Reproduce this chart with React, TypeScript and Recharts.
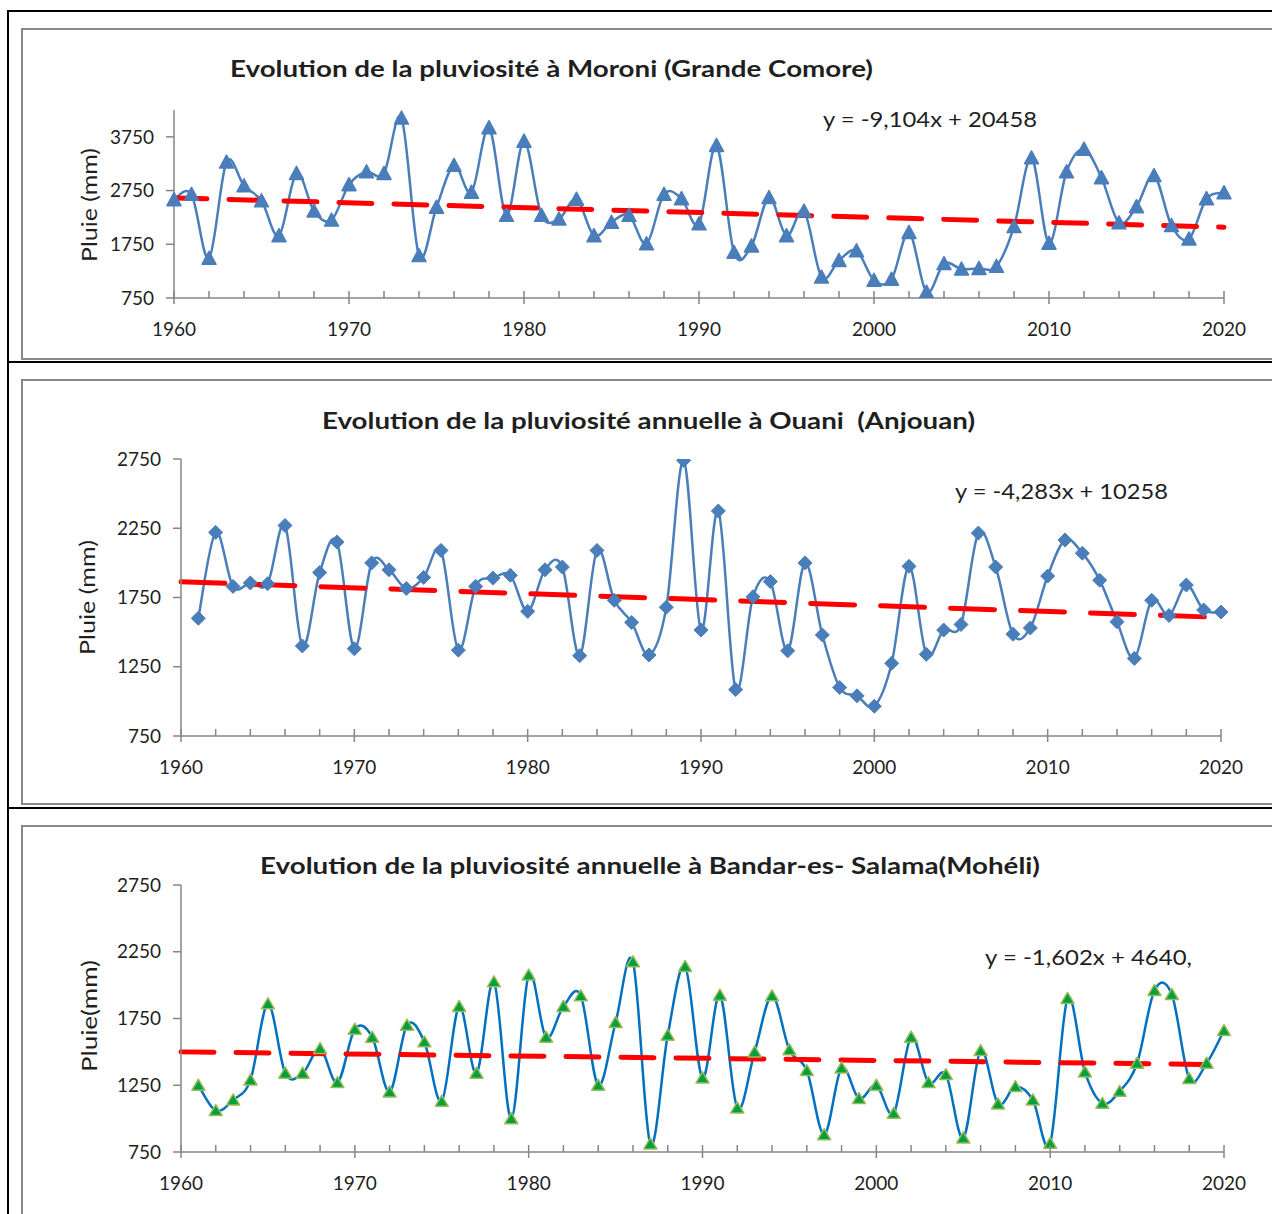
import { LineChart, Line, XAxis, YAxis, ReferenceLine } from "recharts";

const YEARS = Array.from({ length: 61 }, (_, i) => 1960 + i);
const YEAR_TICKS = YEARS.filter((y) => y % 2 === 0);

// Moroni (Grande Comore), 1960-2020
const MORONI = [
  2580, 2680, 1490, 3280, 2840, 2560, 1910, 3070, 2370, 2200,
  2860, 3100, 3070, 4100, 1540, 2440, 3220, 2720, 3920, 2290,
  3670, 2290, 2220, 2590, 1910, 2160, 2290, 1760, 2680, 2600,
  2130, 3590, 1600, 1720, 2620, 1910, 2370, 1140, 1450, 1630,
  1080, 1100, 1970, 860, 1390, 1290, 1300, 1340, 2080, 3360,
  1770, 3100, 3520, 2990, 2150, 2450, 3030, 2100, 1850, 2600,
  2710,
];

// Ouani (Anjouan), no value for 1960
const OUANI = [
  null, 1600, 2220, 1830, 1855, 1850, 2270, 1400, 1930, 2150,
  1380, 2000, 1950, 1815, 1895, 2090, 1370, 1830, 1890, 1910,
  1650, 1950, 1970, 1330, 2090, 1730, 1570, 1335, 1680, 2740,
  1515, 2375, 1085, 1755, 1865, 1365, 2000, 1480, 1100, 1040,
  965, 1275, 1975, 1340, 1515, 1555, 2215, 1970, 1485, 1530,
  1905, 2165, 2070, 1875, 1575, 1310, 1730, 1620, 1840, 1660,
  1645,
];

// Bandar-es-Salama (Mohéli), no value for 1960
const BANDAR = [
  null, 1250, 1060, 1140, 1290, 1860, 1340, 1340, 1525, 1270,
  1670, 1610, 1200, 1700, 1575, 1130, 1840, 1340, 2025, 1000,
  2075, 1610, 1840, 1920, 1250, 1720, 2175, 810, 1625, 2140,
  1305, 1925, 1080, 1500, 1920, 1515, 1360, 880, 1380, 1150,
  1250, 1040, 1610, 1270, 1330, 855, 1510, 1110, 1240, 1140,
  815, 1900, 1350, 1115, 1205, 1415, 1960, 1930, 1300, 1415,
  1660,
];

// linear trends (values at 1960 and 2020)
const TREND_MORONI = [2614, 2068];
const TREND_OUANI = [1863, 1606];
const TREND_BANDAR = [1500, 1404];

const TICKS_MORONI = [750, 1750, 2750, 3750];
const TICKS_OTHER = [750, 1250, 1750, 2250, 2750];

const FONT = "Lato, 'Open Sans', sans-serif";
const AXIS = "#868686";
const TEXT = "#1f1f1f";

// Excel-style smoothed line (cardinal spline, tension 0)
const excelCurve = (context: any) => {
  let pts: number[][] = [];
  return {
    areaStart() {},
    areaEnd() {},
    lineStart() {
      pts = [];
    },
    point(x: number, y: number) {
      pts.push([+x, +y]);
    },
    lineEnd() {
      if (!pts.length) return;
      context.moveTo(pts[0][0], pts[0][1]);
      for (let i = 0; i < pts.length - 1; i++) {
        const p0 = pts[i - 1] || pts[i];
        const p1 = pts[i];
        const p2 = pts[i + 1];
        const p3 = pts[i + 2] || p2;
        context.bezierCurveTo(
          p1[0] + (p2[0] - p0[0]) / 6,
          p1[1] + (p2[1] - p0[1]) / 6,
          p2[0] - (p3[0] - p1[0]) / 6,
          p2[1] - (p3[1] - p1[1]) / 6,
          p2[0],
          p2[1]
        );
      }
    },
  };
};

const YearTick = (props: any) => {
  const { x, y, payload } = props;
  const major = payload.value % 10 === 0;
  return (
    <g>
      <line x1={x} x2={x} y1={y - 7} y2={major ? y + 6 : y} stroke={AXIS} strokeWidth={1.5} />
      {major && (
        <text x={x} y={y + 30} textAnchor="middle" dominantBaseline="central" fill={TEXT} fontSize={19} fontFamily={FONT}>
          {payload.value}
        </text>
      )}
    </g>
  );
};

const triangleDot = (fill: string, stroke: string, w: number, h: number) => (p: any) => {
  if (p.cx == null || p.cy == null || p.value == null) return <g key={p.key} />;
  const { cx, cy } = p;
  const pts = `${cx},${cy - h / 2 - 1} ${cx + w / 2},${cy + h / 2} ${cx - w / 2},${cy + h / 2}`;
  return <polygon key={p.key} points={pts} fill={fill} stroke={stroke} strokeWidth={1.5} strokeLinejoin="round" />;
};

const diamondDot = (p: any) => {
  if (p.cx == null || p.cy == null || p.value == null) return <g key={p.key} />;
  const { cx, cy } = p;
  const r = 7;
  const pts = `${cx},${cy - r} ${cx + r},${cy} ${cx},${cy + r} ${cx - r},${cy}`;
  return <polygon key={p.key} points={pts} fill="#4A7EBB" stroke="#4A7EBB" strokeWidth={1} />;
};

interface PanelProps {
  values: (number | null)[];
  trend: number[];
  yDomain: number[];
  yTicks: number[];
  top: number;
  height: number;
  margin: { top: number; right: number; bottom: number; left: number };
  lineColor: string;
  dot: any;
  dash: string;
}

function Panel({ values, trend, yDomain, yTicks, top, height, margin, lineColor, dot, dash }: PanelProps) {
  const data = YEARS.map((year, i) => ({ year, value: values[i] }));
  return (
    <div style={{ position: "absolute", left: 0, top }}>
      <LineChart width={1272} height={height} data={data} margin={margin}>
        <XAxis
          dataKey="year"
          type="number"
          domain={[YEARS[0], YEARS[YEARS.length - 1]]}
          ticks={YEAR_TICKS}
          interval={0}
          tick={<YearTick />}
          tickLine={false}
          tickSize={0}
          tickMargin={0}
          height={40}
          axisLine={{ stroke: AXIS, strokeWidth: 1.5 }}
        />
        <YAxis
          type="number"
          domain={yDomain}
          ticks={yTicks}
          interval={0}
          width={60}
          tickSize={8}
          tickMargin={12}
          tick={{ fill: TEXT, fontSize: 19, fontFamily: FONT }}
          tickLine={{ stroke: AXIS, strokeWidth: 1.5 }}
          axisLine={{ stroke: AXIS, strokeWidth: 1.5 }}
          allowDataOverflow
        />
        <Line
          dataKey="value"
          type={excelCurve as any}
          stroke={lineColor}
          strokeWidth={2.5}
          dot={dot}
          activeDot={false}
          isAnimationActive={false}
        />
        <ReferenceLine
          segment={[
            { x: YEARS[0], y: trend[0] },
            { x: YEARS[YEARS.length - 1], y: trend[1] },
          ]}
          stroke="#FF0000"
          strokeWidth={5}
          strokeDasharray={dash}
          strokeLinecap="round"
        />
      </LineChart>
    </div>
  );
}

export default function App() {
  return (
    <div style={{ position: "absolute", left: 0, top: 0, width: 1272, height: 1214, overflow: "hidden", background: "#fff" }}>
      {/* table frame */}
      <div style={{ position: "absolute", left: 7, top: 10, width: 1300, height: 1300, borderLeft: "2px solid #000", borderTop: "2px solid #000" }} />
      <div style={{ position: "absolute", left: 7, top: 361, width: 1300, height: 2, background: "#000" }} />
      <div style={{ position: "absolute", left: 7, top: 807, width: 1300, height: 2, background: "#000" }} />
      {/* chart boxes */}
      <div style={{ position: "absolute", left: 21, top: 28, width: 1300, height: 328, border: "2px solid #888" }} />
      <div style={{ position: "absolute", left: 21, top: 379, width: 1300, height: 422, border: "2px solid #888" }} />
      <div style={{ position: "absolute", left: 21, top: 825, width: 1300, height: 500, border: "2px solid #888" }} />

      <svg width={1272} height={1214} style={{ position: "absolute", left: 0, top: 0 }} fontFamily={FONT} fill={TEXT}>
        <text x={230} y={68} dominantBaseline="central" fontSize={23} fontWeight="bold" textLength={643} lengthAdjust="spacingAndGlyphs">
          Evolution de la pluviosité à Moroni (Grande Comore)
        </text>
        <text x={322} y={420} dominantBaseline="central" fontSize={23} fontWeight="bold" textLength={653} lengthAdjust="spacingAndGlyphs" style={{ whiteSpace: "pre" }}>
          Evolution de la pluviosité annuelle à Ouani  (Anjouan)
        </text>
        <text x={260} y={865} dominantBaseline="central" fontSize={23} fontWeight="bold" textLength={780} lengthAdjust="spacingAndGlyphs">
          Evolution de la pluviosité annuelle à Bandar-es- Salama(Mohéli)
        </text>
        <text x={823} y={118} dominantBaseline="central" fontSize={21} textLength={214} lengthAdjust="spacingAndGlyphs">y = -9,104x + 20458</text>
        <text x={955} y={490} dominantBaseline="central" fontSize={21} textLength={213} lengthAdjust="spacingAndGlyphs">y = -4,283x + 10258</text>
        <text x={985} y={956} dominantBaseline="central" fontSize={21} textLength={207} lengthAdjust="spacingAndGlyphs">y = -1,602x + 4640,</text>
        <text x={88} y={262} dominantBaseline="central" fontSize={21} textLength={114} lengthAdjust="spacingAndGlyphs" transform="rotate(-90 88 262)">Pluie (mm)</text>
        <text x={86} y={655} dominantBaseline="central" fontSize={21} textLength={115} lengthAdjust="spacingAndGlyphs" transform="rotate(-90 86 655)">Pluie (mm)</text>
        <text x={88} y={1072} dominantBaseline="central" fontSize={21} textLength={112} lengthAdjust="spacingAndGlyphs" transform="rotate(-90 88 1072)">Pluie(mm)</text>
      </svg>

      <Panel
        values={MORONI}
        trend={TREND_MORONI}
        yDomain={[750, 4250]}
        yTicks={TICKS_MORONI}
        top={28}
        height={332}
        margin={{ top: 82, right: 48, bottom: 22, left: 114 }}
        lineColor="#4A7EBB"
        dot={triangleDot("#4A7EBB", "#4A7EBB", 14, 12)}
        dash="33 22"
      />
      <Panel
        values={OUANI}
        trend={TREND_OUANI}
        yDomain={[750, 2750]}
        yTicks={TICKS_OTHER}
        top={380}
        height={425}
        margin={{ top: 79, right: 51, bottom: 29, left: 121 }}
        lineColor="#4A7EBB"
        dot={diamondDot}
        dash="44 26"
      />
      <Panel
        values={BANDAR}
        trend={TREND_BANDAR}
        yDomain={[750, 2750]}
        yTicks={TICKS_OTHER}
        top={826}
        height={388}
        margin={{ top: 59, right: 48, bottom: 22, left: 121 }}
        lineColor="#0070C0"
        dot={triangleDot("#00A03C", "#9BBB59", 13, 10)}
        dash="33 22"
      />
    </div>
  );
}
